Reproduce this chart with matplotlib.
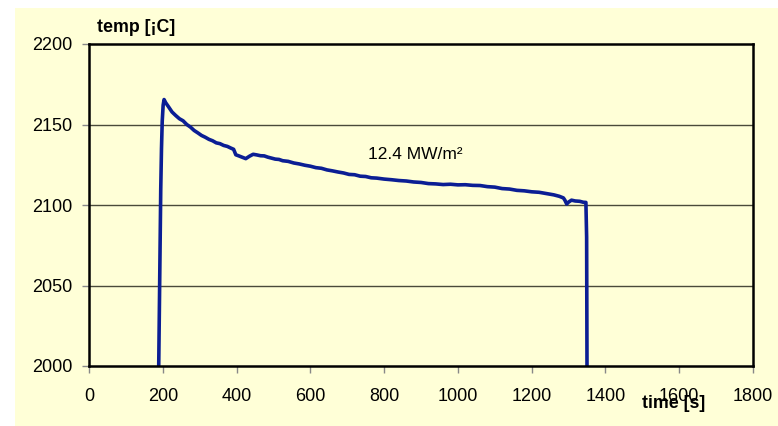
import matplotlib
matplotlib.use("Agg")
import matplotlib.pyplot as plt
from matplotlib.patches import Rectangle

plt.rcParams["font.family"] = ["Liberation Sans", "DejaVu Sans"]

# Surface temperature record under a 12.4 MW/m2 heat load
time_s = [
    189, 192, 194.5, 196.5, 198.5, 201, 203.5,
    208, 215, 225, 235, 245, 255, 265, 275, 285, 295, 305, 315, 325, 335,
    345, 355, 365, 375, 385, 392,
    398, 405, 415, 425, 435, 445, 455, 465, 475, 485, 495, 505, 515, 525,
    540, 555, 570, 585, 600, 615, 630, 645, 660, 675, 690, 705, 720, 735,
    750, 765, 780, 800, 820, 840, 860, 880, 900, 920, 940, 960, 980, 1000,
    1020, 1040, 1060, 1080, 1100, 1120, 1140, 1160, 1180, 1200, 1220, 1240,
    1260, 1275, 1286, 1290, 1295, 1300, 1308, 1318, 1330, 1340, 1347,
    1349, 1350,
]
temp_c = [
    2000, 2060, 2110, 2135, 2152, 2162, 2165.5,
    2163.5, 2161.2, 2157.8, 2155.6, 2153.6, 2152.3, 2150.0, 2148.4, 2146.3,
    2144.8, 2143.2, 2142.1, 2140.8, 2139.9, 2138.6, 2138.1, 2137.0, 2136.4,
    2135.3, 2134.6,
    2131.2, 2130.6, 2129.7, 2128.8, 2130.3, 2131.5, 2131.1, 2130.6, 2130.5,
    2129.7, 2129.1, 2128.5, 2128.3, 2127.5, 2127.1, 2126.1, 2125.5, 2124.7,
    2124.1, 2123.2, 2122.8, 2121.8, 2121.2, 2120.5, 2119.9, 2119.0, 2118.8,
    2117.9, 2117.7, 2116.9, 2116.7, 2116.1, 2115.7, 2115.2, 2114.9, 2114.3,
    2114.0, 2113.3, 2113.1, 2112.7, 2112.9, 2112.5, 2112.6, 2112.2, 2112.1,
    2111.4, 2111.1, 2110.2, 2109.9, 2109.1, 2108.8, 2108.2, 2107.9, 2107.1,
    2106.3, 2105.4, 2104.4, 2103.0, 2100.6, 2101.8, 2103.0, 2102.5, 2102.3,
    2101.7, 2101.6,
    2080, 2000,
]

x_ticks = [0, 200, 400, 600, 800, 1000, 1200, 1400, 1600, 1800]
y_ticks = [2000, 2050, 2100, 2150, 2200]

cream = "#FFFFD7"
line_color = "#0B1E94"

fig = plt.figure(figsize=(7.78, 4.26), dpi=100, facecolor="white")
fig.patches.append(Rectangle((15 / 778, 0), 1 - 15 / 778, 418 / 426,
                             transform=fig.transFigure, facecolor=cream,
                             edgecolor="none", zorder=-5))

ax = fig.add_axes([89 / 778, 60 / 426, 664 / 778, 322 / 426])
ax.set_zorder(2)
ax.set_facecolor(cream)

ax.plot(time_s, temp_c, color=line_color, lw=2.6, solid_joinstyle="round",
        zorder=3)

ax.set_xlim(0, 1800)
ax.set_ylim(2000, 2200)
ax.set_xticks(x_ticks)
ax.set_yticks(y_ticks)
ax.tick_params(axis="x", direction="out", length=5, width=1, color="#888888",
               pad=11, labelsize=13)
ax.tick_params(axis="y", direction="out", length=5, width=1, color="#888888",
               pad=7, labelsize=13)

for y in y_ticks[1:-1]:
    ax.axhline(y, color="#4a4a3a", lw=1.0, zorder=1)

for side in ["left", "right", "top", "bottom"]:
    ax.spines[side].set_color("black")
    ax.spines[side].set_linewidth(1.8)
    ax.spines[side].set_zorder(4)

fig.text(97 / 778, 1 - 27 / 426, "temp [¡C]", fontsize=12.8, fontweight="bold",
         ha="left", va="center", zorder=5)
fig.text(642 / 778, 1 - 403 / 426, "time [s]", fontsize=12.8, fontweight="bold",
         ha="left", va="center", zorder=5)

ax.text(755, 2131.5, "12.4 MW/m²", fontsize=12.5, ha="left", va="center")

fig.savefig("out.png", dpi=100, facecolor=fig.get_facecolor())
